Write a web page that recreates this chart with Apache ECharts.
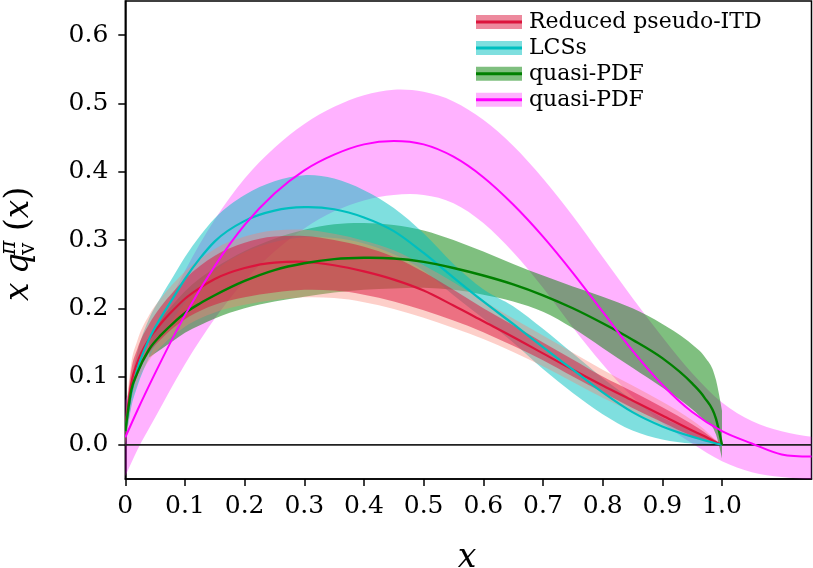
<!DOCTYPE html>
<html>
<head>
<meta charset="utf-8">
<script src="https://cdn.jsdelivr.net/npm/echarts@6/dist/echarts.min.js"></script>
<style>
html,body{margin:0;padding:0;background:#fff;}
#chart{width:813px;height:568px;}
</style>
</head>
<body>
<div id="chart"></div>
<script>
// ---------------- data ----------------
const X = [0,0.01,0.02,0.04,0.06,0.08,0.1,0.125,0.15,0.2,0.25,0.3,0.35,0.4,0.45,0.5,0.55,0.6,0.65,0.7,0.75,0.8,0.85,0.9,0.95,0.97,0.99,1.0];

const redMid = [0.02,0.09,0.12,0.155,0.178,0.197,0.214,0.23,0.243,0.259,0.267,0.268,0.263,0.254,0.242,0.226,0.204,0.181,0.158,0.134,0.11,0.087,0.065,0.043,0.021,0.013,0.004,0];
const redLo  = [0.0,0.07,0.1,0.135,0.155,0.171,0.184,0.196,0.205,0.216,0.223,0.227,0.226,0.22,0.21,0.197,0.182,0.165,0.145,0.124,0.1,0.077,0.054,0.033,0.013,0.007,0.002,0];
const redHi  = [0.035,0.11,0.14,0.177,0.203,0.224,0.243,0.262,0.277,0.296,0.305,0.306,0.3,0.29,0.275,0.253,0.227,0.2,0.175,0.15,0.125,0.1,0.078,0.055,0.03,0.019,0.006,0];
const redLo2 = [-0.004,0.06,0.09,0.124,0.144,0.16,0.173,0.185,0.194,0.205,0.212,0.216,0.215,0.209,0.199,0.186,0.171,0.155,0.136,0.115,0.092,0.069,0.048,0.029,0.011,0.005,0.001,0];
const redHi2 = [0.042,0.12,0.152,0.19,0.215,0.236,0.254,0.272,0.287,0.305,0.314,0.315,0.309,0.299,0.285,0.263,0.238,0.211,0.185,0.16,0.135,0.11,0.087,0.063,0.036,0.023,0.007,0];

const cyanMid = [0.02,0.075,0.11,0.155,0.187,0.215,0.243,0.273,0.298,0.328,0.343,0.348,0.345,0.333,0.313,0.281,0.245,0.21,0.177,0.143,0.11,0.077,0.048,0.027,0.012,0.007,0.002,0];
const cyanLo  = [0.0,0.055,0.085,0.128,0.16,0.185,0.208,0.234,0.255,0.282,0.297,0.304,0.303,0.295,0.279,0.255,0.219,0.185,0.15,0.111,0.076,0.045,0.021,0.008,0.002,0.001,0,0];
const cyanHi  = [0.035,0.095,0.135,0.185,0.217,0.246,0.275,0.306,0.332,0.366,0.386,0.395,0.39,0.373,0.347,0.31,0.265,0.228,0.203,0.17,0.134,0.098,0.066,0.04,0.02,0.012,0.003,0];

const greenMid = [0.02,0.08,0.105,0.14,0.161,0.178,0.193,0.207,0.219,0.24,0.256,0.266,0.272,0.274,0.273,0.268,0.259,0.248,0.235,0.219,0.2,0.178,0.154,0.127,0.09,0.07,0.038,0];
const XG = [0.04,0.06,0.08,0.1,0.125,0.15,0.2,0.25,0.3,0.35,0.4,0.45,0.5,0.55,0.6,0.65,0.7,0.75,0.8,0.85,0.9,0.95,0.97,0.99,1.0];
const greenLo = [0.128,0.14,0.152,0.164,0.175,0.185,0.2,0.21,0.217,0.223,0.227,0.229,0.23,0.227,0.22,0.21,0.195,0.171,0.142,0.113,0.084,0.052,0.036,0.015,-0.02];
const greenHi = [0.152,0.184,0.206,0.225,0.244,0.259,0.284,0.302,0.315,0.323,0.325,0.322,0.314,0.3,0.283,0.265,0.248,0.232,0.217,0.2,0.177,0.147,0.13,0.095,0.05];

const magX   = [0,0.02,0.05,0.1,0.15,0.2,0.25,0.3,0.35,0.4,0.45,0.5,0.55,0.6,0.65,0.7,0.75,0.8,0.85,0.9,0.95,1.0,1.05,1.1,1.15];
const magMid = [0.011,0.05,0.105,0.19,0.262,0.322,0.368,0.402,0.425,0.44,0.445,0.44,0.422,0.392,0.352,0.305,0.252,0.195,0.138,0.088,0.048,0.02,0.002,-0.014,-0.017];
const magLo  = [-0.046,-0.008,0.04,0.118,0.185,0.24,0.283,0.317,0.342,0.358,0.366,0.366,0.354,0.325,0.282,0.23,0.172,0.118,0.07,0.032,0.002,-0.024,-0.04,-0.047,-0.05];
const magHi  = [0.065,0.105,0.165,0.255,0.33,0.39,0.435,0.47,0.495,0.512,0.52,0.517,0.503,0.476,0.438,0.39,0.335,0.275,0.215,0.158,0.105,0.062,0.035,0.02,0.012];

const xTicks = [0,0.1,0.2,0.3,0.4,0.5,0.6,0.7,0.8,0.9,1.0];
const yTicks = [0,0.1,0.2,0.3,0.4,0.5,0.6];
const legendLabels = ['Reduced pseudo-ITD','LCSs','quasi-PDF','quasi-PDF'];

// ---------------- helpers ----------------
const FONT = '"DejaVu Serif", "Liberation Serif", serif';

function smoothPath(pts) {
  const n = pts.length;
  const s = [], t = new Array(n);
  for (let i = 0; i < n - 1; i++) {
    const h = pts[i + 1][0] - pts[i][0];
    s.push(h ? (pts[i + 1][1] - pts[i][1]) / h : 0);
  }
  for (let i = 1; i < n - 1; i++) {
    const h0 = pts[i][0] - pts[i - 1][0], h1 = pts[i + 1][0] - pts[i][0];
    const s0 = s[i - 1], s1 = s[i];
    let p = (s0 * h1 + s1 * h0) / (h0 + h1);
    if (Math.sign(s0) === Math.sign(s1)) {
      const lim = 3 * Math.min(Math.abs(s0), Math.abs(s1));
      if (Math.abs(p) > lim) p = Math.sign(p) * lim;
    }
    t[i] = p;
  }
  t[0] = n > 2 ? (3 * s[0] - t[1]) / 2 : s[0];
  t[n - 1] = n > 2 ? (3 * s[n - 2] - t[n - 2]) / 2 : s[n - 2];
  let d = '';
  for (let i = 0; i < n - 1; i++) {
    const x0 = pts[i][0], y0 = pts[i][1], x1 = pts[i + 1][0], y1 = pts[i + 1][1];
    const dx = (x1 - x0) / 3;
    d += ' C' + (x0 + dx) + ',' + (y0 + dx * t[i]) + ' ' + (x1 - dx) + ',' + (y1 - dx * t[i + 1]) + ' ' + x1 + ',' + y1;
  }
  return d;
}

function bandSeries(name, xs, lo, hi, color, z) {
  return {
    type: 'custom', name: name, z: z, silent: true, clip: true,
    data: [[xs[0], lo[0]]],
    renderItem: function (params, api) {
      const up = xs.map((x, i) => api.coord([x, hi[i]]));
      const dn = xs.map((x, i) => api.coord([x, lo[i]])).reverse();
      const d = 'M' + up[0][0] + ',' + up[0][1] + smoothPath(up) +
        ' L' + dn[0][0] + ',' + dn[0][1] + smoothPath(dn) + ' Z';
      return { type: 'path', shape: { pathData: d }, style: { fill: color, stroke: null } };
    }
  };
}

function curveSeries(name, xs, ys, color, width, z) {
  return {
    type: 'custom', name: name, z: z, silent: true, clip: true,
    data: [[xs[0], ys[0]]],
    renderItem: function (params, api) {
      const pts = xs.map((x, i) => api.coord([x, ys[i]]));
      const d = 'M' + pts[0][0] + ',' + pts[0][1] + smoothPath(pts);
      return { type: 'path', shape: { pathData: d }, style: { fill: null, stroke: color, lineWidth: width } };
    }
  };
}

const C = {
  red: '#dc143c', redBand: 'rgba(220,20,60,0.5)', redBand2: 'rgba(250,128,114,0.38)',
  cyan: '#00bfbf', cyanBand: 'rgba(0,191,191,0.5)',
  green: '#008000', greenBand: 'rgba(0,128,0,0.5)',
  mag: '#ff00ff', magBand: 'rgba(255,0,255,0.3)'
};

// ---------------- legend graphics ----------------
const legendLine = [C.red, C.cyan, C.green, C.mag];
const legendBand = [C.redBand, C.cyanBand, C.greenBand, C.magBand];
const legendGraphics = [];
legendLabels.forEach((lab, i) => {
  const cy = 22 + i * 25.9;
  legendGraphics.push({ type: 'rect', shape: { x: 476, y: cy - 7, width: 46, height: 14 }, style: { fill: legendBand[i] }, z: 100 });
  legendGraphics.push({ type: 'line', shape: { x1: 476, y1: cy, x2: 522, y2: cy }, style: { stroke: legendLine[i], lineWidth: 3 }, z: 101 });
  legendGraphics.push({ type: 'text', x: 529, y: cy + 0.5, style: { text: lab, font: '22px ' + FONT, fill: '#000', verticalAlign: 'middle', align: 'left' }, z: 101 });
});

// axis titles
const yTitle = {
  type: 'group', x: 19, y: 301, rotation: Math.PI / 2, z: 100,
  children: [
    { type: 'text', x: 0, y: 0, style: { text: 'x', font: 'italic 33px ' + FONT, fill: '#000', verticalAlign: 'middle', align: 'left' } },
    { type: 'text', x: 27, y: 0, style: { text: 'q', font: 'italic 33px ' + FONT, fill: '#000', verticalAlign: 'middle', align: 'left' } },
    { type: 'text', x: 46, y: -10, style: { text: 'π', font: 'italic 22px ' + FONT, fill: '#000', verticalAlign: 'middle', align: 'left' } },
    { type: 'text', x: 46, y: 9, style: { text: 'v', font: '22px ' + FONT, fill: '#000', verticalAlign: 'middle', align: 'left' } },
    { type: 'text', x: 70, y: 0, style: { text: '({i|x})', font: '33px ' + FONT, fill: '#000', verticalAlign: 'middle', align: 'left',
      rich: { i: { font: 'italic 33px ' + FONT } } } }
  ]
};

const xTitle = { type: 'text', x: 467, y: 558, z: 100, style: { text: 'x', font: 'italic 33px ' + FONT, fill: '#000', align: 'center', verticalAlign: 'middle' } };

// ---------------- chart ----------------
const chart = echarts.init(document.getElementById('chart'), null, { renderer: 'canvas' });
chart.setOption({
  animation: false,
  backgroundColor: '#fff',
  grid: { left: 125.3, right: 1.5, top: 1, bottom: 89, show: true, borderColor: '#000', borderWidth: 1.5, backgroundColor: 'transparent' },
  xAxis: {
    type: 'value', min: 0, max: 1.15,
    axisLine: { show: true, onZero: false, lineStyle: { color: '#000', width: 1.5 } },
    axisTick: { show: true, length: 7, lineStyle: { color: '#000', width: 1.5 }, customValues: xTicks },
    axisLabel: { customValues: xTicks, margin: 15, color: '#000', fontFamily: FONT, fontSize: 25,
      formatter: v => (v === 0 ? '0' : v.toFixed(1)) },
    splitLine: { show: false }
  },
  yAxis: {
    type: 'value', min: -0.05, max: 0.65,
    axisLine: { show: true, onZero: false, lineStyle: { color: '#000', width: 1.5 } },
    axisTick: { show: true, length: 7, lineStyle: { color: '#000', width: 1.5 }, customValues: yTicks },
    axisLabel: { customValues: yTicks, margin: 17, color: '#000', fontFamily: FONT, fontSize: 25,
      formatter: v => v.toFixed(1) },
    splitLine: { show: false }
  },
  series: [
    bandSeries('quasi-PDF band 2', magX, magLo, magHi, C.magBand, 1),
    bandSeries('quasi-PDF band', XG, greenLo, greenHi, C.greenBand, 1),
    bandSeries('LCSs band', X, cyanLo, cyanHi, C.cyanBand, 1),
    bandSeries('Reduced pseudo-ITD band outer', X, redLo2, redHi2, C.redBand2, 1),
    bandSeries('Reduced pseudo-ITD band', X, redLo, redHi, C.redBand, 1),
    {
      type: 'line', name: 'zero', z: 2, silent: true, symbol: 'none',
      data: [[0, 0], [1.15, 0]], lineStyle: { color: '#222', width: 1.6 }
    },
    curveSeries('Reduced pseudo-ITD', X, redMid, C.red, 2.2, 3),
    curveSeries('LCSs', X, cyanMid, C.cyan, 2.2, 3),
    curveSeries('quasi-PDF', X, greenMid, C.green, 2.4, 3),
    curveSeries('quasi-PDF 2', magX, magMid, C.mag, 2, 3)
  ],
  graphic: [yTitle, xTitle].concat(legendGraphics)
});
</script>
</body>
</html>
